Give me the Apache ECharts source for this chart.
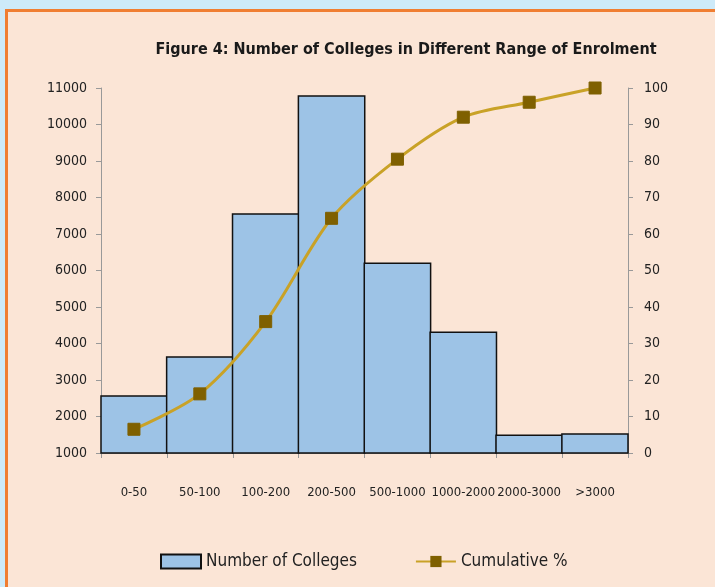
<!DOCTYPE html>
<html lang="en">
<head>
    <meta charset="UTF-8">
    <title>Figure 4</title>
    <script src="https://cdn.jsdelivr.net/npm/echarts@6/dist/echarts.min.js"></script>
</head>
<style>
    html, body {
        margin: 0;
        padding: 0;
        width: 715px;
        height: 587px;
        overflow: hidden;
        background: #cdeaf9;
    }
    #panel {
        position: absolute;
        left: 5px;
        top: 9px;
        width: 720px;
        height: 600px;
        background: #fbe5d6;
        border: 3px solid #f07e32;
    }
    #main {
        position: absolute;
        left: 0;
        top: 0;
        width: 715px;
        height: 587px;
    }
</style>
<body>
<div id="panel"></div>
<div id="main"></div>
<script type="text/javascript">
    // 数据
    var categories = ['0-50', '50-100', '100-200', '200-500', '500-1000', '1000-2000', '2000-3000', '>3000'];
    var colleges = [2580, 3650, 7570, 10800, 6220, 4330, 1510, 1540];
    var cumulative = [6.5, 16.2, 36, 64.3, 80.5, 92, 96.1, 100];
    var leftTicks = [1000, 11000, 1000];   // min, max, interval
    var rightTicks = [0, 100, 10];

    var font = '"DejaVu Sans Condensed", "Liberation Sans Narrow", sans-serif';

    var myChart = echarts.init(document.getElementById('main'));

    var option = {
        textStyle: { fontFamily: font },
        title: {
            text: 'Figure 4: Number of Colleges in Different Range of Enrolment',
            left: 401,
            textAlign: 'center',
            top: 37,
            textStyle: { fontFamily: font, fontSize: 16, fontWeight: 'bold', color: '#1a1a1a' }
        },
        legend: {
            left: 155,
            top: 548,
            itemGap: 58,
            itemWidth: 40,
            itemHeight: 14,
            textStyle: { fontFamily: font, fontSize: 17, color: '#222' },
            data: [
                { name: 'Number of Colleges', icon: 'rect' },
                { name: 'Cumulative %' }
            ]
        },
        grid: {
            left: 101,
            right: 87,
            top: 88,
            bottom: 134
        },
        xAxis: {
            type: 'category',
            data: categories,
            axisLine: { lineStyle: { color: '#999' } },
            axisTick: { show: true, length: 5, lineStyle: { color: '#999' } },
            axisLabel: { color: '#222', fontSize: 13, margin: 33, interval: 0 }
        },
        yAxis: [
            {
                type: 'value',
                min: leftTicks[0],
                max: leftTicks[1],
                interval: leftTicks[2],
                splitLine: { show: false },
                axisLine: { show: true, lineStyle: { color: '#999' } },
                axisTick: { show: true, length: 5, lineStyle: { color: '#999' } },
                axisLabel: { color: '#222', fontSize: 14, margin: 14, formatter: function (v) { return String(v); } }
            },
            {
                type: 'value',
                min: rightTicks[0],
                max: rightTicks[1],
                interval: rightTicks[2],
                splitLine: { show: false },
                axisLine: { show: true, lineStyle: { color: '#999' } },
                axisTick: { show: true, length: 5, lineStyle: { color: '#999' } },
                axisLabel: { color: '#222', fontSize: 14, margin: 16 }
            }
        ],
        series: [
            {
                name: 'Number of Colleges',
                type: 'bar',
                barWidth: '103%',
                data: colleges,
                itemStyle: {
                    color: '#9dc3e6',
                    borderColor: '#111',
                    borderWidth: 1.5
                }
            },
            {
                name: 'Cumulative %',
                type: 'line',
                yAxisIndex: 1,
                smooth: 0.3,
                data: cumulative,
                symbol: 'rect',
                symbolSize: 12,
                lineStyle: { color: '#c9a227', width: 3 },
                itemStyle: { color: '#7f6000', borderColor: '#7f6000' }
            }
        ]
    };

    myChart.setOption(option);
</script>
</body>
</html>
